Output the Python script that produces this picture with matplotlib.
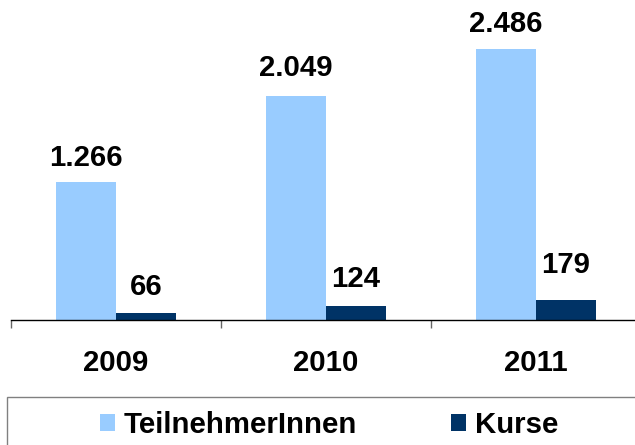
import matplotlib
matplotlib.use("Agg")
import matplotlib.pyplot as plt
from matplotlib.patches import Rectangle

years = ["2009", "2010", "2011"]
teilnehmer = [1266, 2049, 2486]
kurse = [66, 124, 179]
series_names = ["TeilnehmerInnen", "Kurse"]

def de_fmt(v):
    return f"{v:,}".replace(",", ".")

plt.rcParams['font.family'] = ['Liberation Sans', 'DejaVu Sans']
plt.rcParams['font.weight'] = 'bold'

FS = 21.2
W, H = 635, 445
fig = plt.figure(figsize=(W / 100, H / 100), dpi=100)
ax_left = 11 / W
ax_width = 629.5 / W
ax_bottom = 1 - 320 / H
ax_height = 320 / H
ax = fig.add_axes([ax_left, ax_bottom, ax_width, ax_height])

x = list(range(len(years)))
bw = 0.286
light = '#99CCFF'
dark = '#003366'
b1 = ax.bar([i - bw / 2 for i in x], teilnehmer, width=bw, color=light, label=series_names[0])
b2 = ax.bar([i + bw / 2 for i in x], kurse, width=bw, color=dark, label=series_names[1])

ax.set_xlim(-0.5, 2.5)
ax.set_ylim(0, 320 / 0.1092)

# data labels (offsets in px above bar top)
off_light = [16, 20, 17]
off_dark = [18, 19, 27]
for rect, v, o in zip(b1, teilnehmer, off_light):
    ax.annotate(de_fmt(v), (rect.get_x() + rect.get_width() / 2, rect.get_height()),
                xytext=(0, o * 0.72), textcoords='offset points', ha='center', va='baseline',
                fontsize=FS, fontweight='bold', color='black')
for rect, v, o in zip(b2, kurse, off_dark):
    ax.annotate(de_fmt(v), (rect.get_x() + rect.get_width() / 2, rect.get_height()),
                xytext=(0, o * 0.72), textcoords='offset points', ha='center', va='baseline',
                fontsize=FS, fontweight='bold', color='black')

for s in ['top', 'right', 'left']:
    ax.spines[s].set_visible(False)
ax.spines['bottom'].set_color('black')
ax.spines['bottom'].set_linewidth(1.0)
ax.set_yticks([])
ax.set_xticks(x)
ax.set_xticklabels(years, fontsize=FS, fontweight='bold')
ax.tick_params(axis='x', which='major', length=0, pad=21)
ax.set_xticks([-0.5, 0.5, 1.5, 2.5], minor=True)
ax.tick_params(axis='x', which='minor', length=6, width=1, color='#666666', direction='out')

# legend frame
fig.patches.append(Rectangle((7 / W, -0.05), 640 / W, 1 - 397 / H + 0.05,
                             transform=fig.transFigure, fill=False,
                             edgecolor='#808080', linewidth=1.0))
leg = fig.legend(handles=[b1, b2], labels=series_names, loc='center',
                 bbox_to_anchor=(329 / W, 1 - 425 / H), ncol=2, frameon=False,
                 fontsize=FS, handlelength=0.52, handleheight=0.52,
                 handletextpad=0.28, columnspacing=3.2, borderpad=0)
for t in leg.get_texts():
    t.set_fontweight('bold')

fig.savefig("out.png", dpi=100)
